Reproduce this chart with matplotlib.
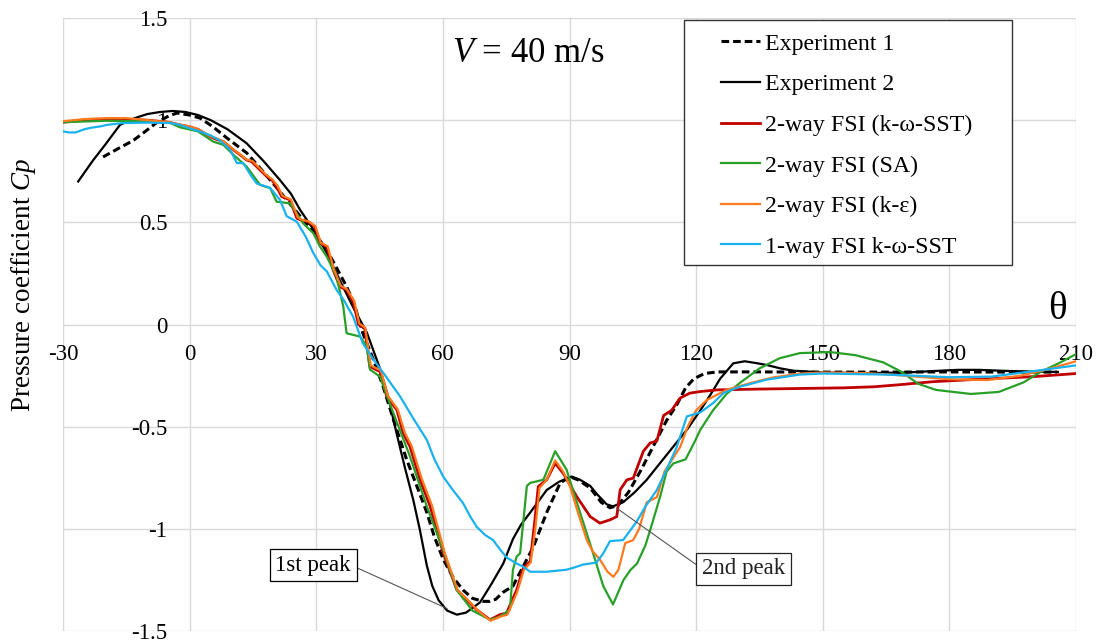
import matplotlib
matplotlib.use("Agg")
import matplotlib.pyplot as plt
from matplotlib.patches import Rectangle
from matplotlib.lines import Line2D

plt.rcParams['font.family'] = ['Liberation Serif', 'DejaVu Serif']
plt.rcParams['mathtext.fontset'] = 'custom'
plt.rcParams['mathtext.rm'] = 'Liberation Serif'
plt.rcParams['mathtext.it'] = 'Liberation Serif:italic'
plt.rcParams['axes.unicode_minus'] = False

# ---------------- data ----------------
x_ticks = [-30, 0, 30, 60, 90, 120, 150, 180, 210]
x_labels = ["-30", "0", "30", "60", "90", "120", "150", "180", "210"]
y_ticks = [-1.5, -1.0, -0.5, 0.0, 0.5, 1.0, 1.5]
y_labels = ["-1.5", "-1", "-0.5", "0", "0.5", "1", "1.5"]

series_labels = ["Experiment 1", "Experiment 2", "2-way FSI (k-ω-SST)",
                 "2-way FSI (SA)", "2-way FSI (k-ε)", "1-way FSI k-ω-SST"]

exp1_theta = [-20.5, -17, -13.4, -10.5, -7.7, -5, -3, 0, 2.5, 5.5, 9, 13.5, 16.5, 19.8, 23, 26.2,
              29.5, 32.5, 35, 37.2, 39, 41, 43.5, 45.8, 48.5, 51.4, 54, 56.2, 58, 60.1, 62.5, 64.8,
              67, 69.5, 71.2, 72.5, 74.3, 76.6, 79, 81.4, 84.6, 87.8, 90.1, 92, 94.9, 97.5, 99.6,
              101.5, 104, 107, 110, 113, 115.5, 117.5, 119.5, 122, 125, 135, 150, 165, 180, 195, 205.5]
exp1_cp = [0.82, 0.86, 0.90, 0.945, 0.99, 1.02, 1.035, 1.025, 1.01, 0.968, 0.91, 0.84, 0.77, 0.69,
           0.61, 0.53, 0.45, 0.365, 0.27, 0.185, 0.10, -0.04, -0.17, -0.30, -0.48, -0.66, -0.80,
           -0.92, -1.04, -1.15, -1.24, -1.30, -1.34, -1.355, -1.355, -1.345, -1.31, -1.28, -1.185,
           -1.09, -0.92, -0.775, -0.745, -0.76, -0.80, -0.87, -0.897, -0.885, -0.82, -0.71, -0.59,
           -0.47, -0.39, -0.31, -0.265, -0.24, -0.232, -0.232, -0.233, -0.233, -0.232, -0.233, -0.233]

exp2_theta = [-26.4, -23, -20, -16.5, -13, -10, -7, -4, -1, 2, 5, 9, 13.5, 17.5, 21.4, 24, 26.2,
              29.5, 32.5, 35.5, 38.7, 42, 45, 47, 49, 51, 53, 54.5, 56.2, 57.5, 59, 61, 63.3, 65.5,
              68.8, 71.5, 74.3, 76.6, 78.5, 80.7, 84.6, 87.5, 90.5, 92.5, 94.9, 96.5, 98.8, 100.3,
              102.7, 105.5, 108.3, 111, 114.5, 118, 121, 123.5, 125.7, 128.8, 131.5, 134, 136.7,
              140, 143, 150, 160, 170, 176, 182, 187, 192, 198, 205.7]
exp2_cp = [0.70, 0.80, 0.88, 0.977, 1.01, 1.03, 1.04, 1.045, 1.04, 1.025, 1.0, 0.955, 0.887, 0.80,
           0.707, 0.64, 0.56, 0.46, 0.35, 0.22, 0.086, -0.04, -0.21, -0.35, -0.53, -0.70, -0.86,
           -1.0, -1.18, -1.28, -1.35, -1.40, -1.42, -1.41, -1.36, -1.27, -1.17, -1.05, -0.98, -0.92,
           -0.81, -0.77, -0.744, -0.76, -0.79, -0.83, -0.88, -0.89, -0.87, -0.82, -0.76, -0.69,
           -0.60, -0.51, -0.42, -0.34, -0.265, -0.19, -0.18, -0.188, -0.198, -0.215, -0.226,
           -0.235, -0.238, -0.235, -0.228, -0.222, -0.222, -0.226, -0.23, -0.232]

sst_theta = [-30, -25, -20, -15, -10, -5, -2.3, 0, 2, 4.8, 6.5, 8.0, 10.4, 12, 13.5, 14.7, 16.7, 18,
             19.5, 20.6, 21.8, 23.8, 25.4, 26.5, 28.1, 29.7, 30.9, 32.5, 34.0, 35.6, 37.2, 38.8,
             40.0, 41.5, 42.7, 45.1, 46.7, 49.1, 50.6, 52.2, 54.6, 57.0, 60.1, 63.3, 65.6, 68.0,
             71.2, 73.5, 75.1, 77.5, 79.1, 80.7, 81.8, 82.6, 84.6, 86.6, 88.5, 91.7, 94.9, 97.2,
             99.6, 101.2, 102.0, 103.6, 105.1, 107.5, 109.1, 110.7, 112.3, 114.2, 116.2, 118.5,
             121, 125, 135, 145, 155, 162, 168, 176, 185, 193, 200, 210]
sst_cp = [0.99, 1.0, 1.005, 1.005, 1.0, 0.99, 0.977, 0.968, 0.955, 0.92, 0.905, 0.895, 0.854, 0.83,
          0.805, 0.797, 0.756, 0.73, 0.707, 0.675, 0.626, 0.61, 0.52, 0.51, 0.503, 0.479, 0.398,
          0.381, 0.267, 0.185, 0.169, 0.11, 0.0, -0.02, -0.206, -0.23, -0.353, -0.418, -0.532,
          -0.597, -0.76, -0.89, -1.119, -1.298, -1.347, -1.396, -1.445, -1.42, -1.412, -1.298,
          -1.19, -1.16, -0.956, -0.793, -0.76, -0.679, -0.728, -0.842, -0.94, -0.972, -0.956,
          -0.94, -0.809, -0.76, -0.752, -0.62, -0.58, -0.57, -0.445, -0.42, -0.36, -0.336, -0.328,
          -0.32, -0.316, -0.313, -0.31, -0.305, -0.295, -0.28, -0.27, -0.262, -0.255, -0.24]

sa_theta = [-30, -20, -10, -5, -2.3, 2, 5.6, 8.0, 10.4, 13.5, 16.7, 19.1, 20.6, 23.8, 26.9, 29.3,
            30.9, 32.5, 34.8, 36.4, 37.2, 40.4, 42.0, 42.7, 45.1, 48.2, 52.2, 56.2, 60, 63.3, 67,
            71.2, 73.5, 75.9, 76.6, 77.5, 78.3, 79.9, 80.7, 83.8, 86.6, 89.3, 92.5, 95.6, 98, 100.3,
            102.8, 104.5, 106, 108, 109.5, 111.5, 113, 114.6, 117.5, 119.5, 121, 124, 127.2, 130.3,
            135, 139.8, 144.6, 151.8, 157.7, 164.3, 168.5, 172.6, 176.8, 185.1, 191.7, 197.6,
            201.7, 205.9, 210]
sa_cp = [0.99, 0.997, 0.995, 0.99, 0.965, 0.945, 0.895, 0.879, 0.83, 0.773, 0.683, 0.667, 0.601,
         0.593, 0.495, 0.447, 0.381, 0.332, 0.234, 0.088, -0.043, -0.059, -0.108, -0.22, -0.255,
         -0.43, -0.645, -0.89, -1.10, -1.30, -1.40, -1.445, -1.43, -1.395, -1.2, -1.135, -1.12,
         -0.79, -0.775, -0.76, -0.62, -0.71, -0.92, -1.12, -1.28, -1.37, -1.25, -1.20, -1.17,
         -1.08, -0.98, -0.84, -0.72, -0.68, -0.66, -0.58, -0.515, -0.42, -0.34, -0.287, -0.215,
         -0.165, -0.14, -0.135, -0.15, -0.185, -0.23, -0.29, -0.32, -0.34, -0.33, -0.283, -0.231,
         -0.19, -0.145]

ke_theta = [-30, -25, -20, -15, -10, -5, -2.3, 0, 2, 4.8, 6.5, 8.0, 10.4, 12, 13.5, 14.9, 16.9, 18,
            19.6, 20.8, 22, 24, 25.6, 26.5, 28.2, 29.8, 31.1, 32.7, 34.2, 35.8, 37.3, 39.0, 40.2,
            41.6, 42.9, 45.3, 47, 49.3, 51, 52.6, 55, 57.4, 60.4, 63.5, 66, 68.3, 71.3, 73.6, 75.3,
            77.6, 79.2, 80.8, 81.9, 82.9, 84.6, 86.6, 88.5, 90.1, 92, 94.1, 95.5, 97.2, 99, 100.4,
            101.6, 103.2, 105.1, 106.5, 108.3, 110.7, 112.5, 114.2, 116.2, 118, 120, 122.5, 127.2,
            132.8, 138, 144.7, 150, 160, 166, 172, 180, 189, 197, 204, 210]
ke_cp = [0.995, 1.005, 1.01, 1.01, 1.0, 0.99, 0.978, 0.97, 0.955, 0.922, 0.91, 0.897, 0.856, 0.832,
         0.807, 0.8, 0.758, 0.735, 0.71, 0.68, 0.63, 0.612, 0.525, 0.513, 0.505, 0.48, 0.40, 0.383,
         0.27, 0.19, 0.172, 0.115, 0.005, -0.015, -0.2, -0.225, -0.35, -0.415, -0.53, -0.595,
         -0.755, -0.885, -1.115, -1.3, -1.35, -1.4, -1.45, -1.43, -1.42, -1.31, -1.2, -1.165, -1.0,
         -0.80, -0.76, -0.665, -0.72, -0.79, -0.92, -1.055, -1.11, -1.15, -1.21, -1.235, -1.2,
         -1.07, -1.055, -1.0, -0.87, -0.845, -0.72, -0.665, -0.60, -0.50, -0.42, -0.37, -0.32,
         -0.287, -0.26, -0.24, -0.235, -0.238, -0.245, -0.255, -0.268, -0.272, -0.25, -0.215, -0.18]

oneway_theta = [-30, -28.5, -27, -25, -23.6, -21, -19.6, -15.8, -10, -4.6, -2.3, 0, 2.5, 5, 7.2,
                9.6, 11.2, 12.7, 14.5, 15.9, 19, 21.4, 23, 25.4, 27.5, 29.3, 31, 32.5, 34.8, 36.5,
                38.7, 41, 43.5, 46, 49.8, 53, 56.2, 58, 60.1, 62, 64.8, 66.5, 68, 70, 71.9, 73.5,
                75.1, 77.5, 79, 80.7, 84.6, 89.3, 91, 93.2, 96.4, 98, 99.6, 102.7, 105.9, 108,
                110.7, 113, 115.4, 117.8, 121, 124, 126.5, 130.3, 136.7, 144.6, 150, 165, 180,
                190, 200, 210]
oneway_cp = [0.945, 0.94, 0.94, 0.955, 0.962, 0.97, 0.977, 0.986, 0.988, 0.986, 0.977, 0.96,
             0.944, 0.925, 0.90, 0.855, 0.79, 0.79, 0.73, 0.69, 0.67, 0.61, 0.53, 0.503, 0.43,
             0.35, 0.29, 0.26, 0.17, 0.12, 0.04, -0.09, -0.17, -0.24, -0.35, -0.46, -0.565, -0.66,
             -0.745, -0.80, -0.875, -0.94, -0.99, -1.03, -1.055, -1.10, -1.14, -1.17, -1.185,
             -1.21, -1.21, -1.20, -1.19, -1.175, -1.165, -1.12, -1.06, -1.055, -0.965, -0.89,
             -0.81, -0.71, -0.60, -0.45, -0.43, -0.385, -0.335, -0.305, -0.27, -0.245, -0.24,
             -0.245, -0.258, -0.255, -0.228, -0.2]

peak1_xy = (61.0, -1.39)
peak2_xy = (101.2, -0.899)

# ---------------- figure ----------------
W, H = 1099, 642
fig = plt.figure(figsize=(W / 100, H / 100), dpi=100)
L, R, T, B = 63, 1076, 18, 631
ax = fig.add_axes([L / W, 1 - B / H, (R - L) / W, (B - T) / H])
ax.set_xlim(-30, 210)
ax.set_ylim(-1.5, 1.5)

ax.set_xticks(x_ticks, labels=x_labels)
ax.set_yticks(y_ticks, labels=y_labels)
ax.grid(True, color='#D9D9D9', lw=1.0)
ax.set_axisbelow(True)
for s in ['top', 'right']:
    ax.spines[s].set_visible(False)
ax.spines['left'].set_position(('data', 0))
ax.spines['bottom'].set_position(('data', 0))
ax.spines['left'].set_color('none')
ax.spines['bottom'].set_color('none')
ax.tick_params(axis='both', length=0, labelsize=16.5, colors='black')
ax.tick_params(axis='x', pad=14)
ax.tick_params(axis='y', pad=16)

c_red = '#C00000'
c_green = '#28A028'
c_orange = '#FF7A1E'
c_cyan = '#1AB2EE'

ax.plot(exp1_theta, exp1_cp, color='black', lw=2.2, dashes=(2.5, 1.3), zorder=3)
ax.plot(exp2_theta, exp2_cp, color='black', lw=1.6, zorder=3)
ax.plot(sst_theta, sst_cp, color=c_red, lw=2.0, zorder=3)
ax.plot(sa_theta, sa_cp, color=c_green, lw=1.6, zorder=3)
ax.plot(ke_theta, ke_cp, color=c_orange, lw=1.6, zorder=3)
ax.plot(oneway_theta, oneway_cp, color=c_cyan, lw=1.6, zorder=3)

# annotations
ax.annotate('1st peak', xy=peak1_xy, xytext=(29.3, -1.178), ha='center', va='center',
            fontsize=16.5, zorder=6,
            bbox=dict(boxstyle='square,pad=0.25', fc='white', ec='black', lw=0.9),
            arrowprops=dict(arrowstyle='-', color='#555555', lw=0.8, relpos=(1, 0.5),
                            shrinkA=0, shrinkB=0))
ax.annotate('2nd peak', xy=peak2_xy, xytext=(131.3, -1.196), ha='center', va='center',
            fontsize=16.5, zorder=6, color='#222222',
            bbox=dict(boxstyle='square,pad=0.25', fc='white', ec='#222222', lw=0.9),
            arrowprops=dict(arrowstyle='-', color='#555555', lw=0.8, relpos=(0, 0.5),
                            shrinkA=0, shrinkB=0))

# texts
fig.text(452 / W, 1 - 62 / H, r'$\mathit{V}$ = 40 m/s', fontsize=25, va='baseline', ha='left')
fig.text(1057 / W, 1 - 319 / H, 'θ', fontsize=28, va='baseline', ha='center')
fig.text(24 / W, 1 - 285 / H, r'Pressure coefficient $\mathit{Cp}$', rotation=90,
         fontsize=19.5, va='center', ha='center')

# legend box + legend
rect = Rectangle((684 / W, 1 - 265 / H), (1012 - 684) / W, (265 - 20) / H,
                 transform=fig.transFigure, fill=True, facecolor='white',
                 edgecolor='#333333', lw=1.0, zorder=4)
fig.add_artist(rect)
handles = [
    Line2D([], [], color='black', lw=2.2, dashes=(2.5, 1.3)),
    Line2D([], [], color='black', lw=1.6),
    Line2D([], [], color=c_red, lw=2.0),
    Line2D([], [], color=c_green, lw=1.6),
    Line2D([], [], color=c_orange, lw=1.6),
    Line2D([], [], color=c_cyan, lw=1.6),
]
leg = fig.legend(handles, series_labels, loc='upper left',
                 bbox_to_anchor=(721 / W, 1 - 33 / H), bbox_transform=fig.transFigure,
                 frameon=False, fontsize=17.2, handlelength=1.65, handletextpad=0.2,
                 labelspacing=0.79, borderpad=0, borderaxespad=0)
leg.set_zorder(5)

fig.savefig('out.png', dpi=100)
